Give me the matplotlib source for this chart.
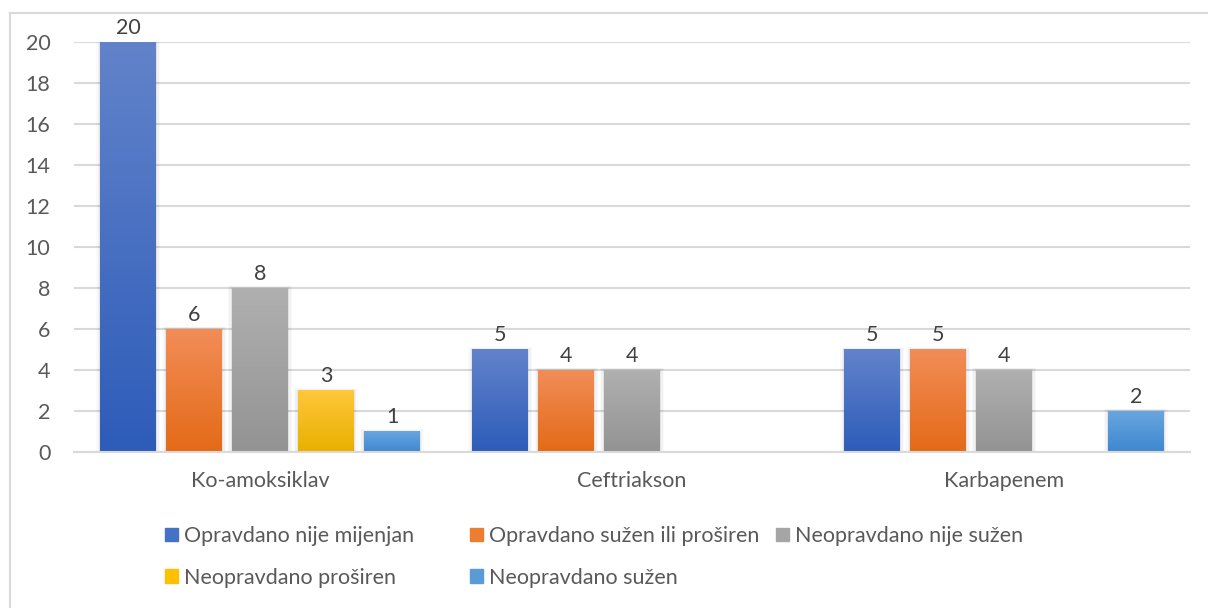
import numpy as np
import matplotlib.pyplot as plt
import matplotlib.patches as mpatches
from matplotlib.colors import LinearSegmentedColormap

categories = ["Ko-amoksiklav", "Ceftriakson", "Karbapenem"]
series_names = [
    "Opravdano nije mijenjan",
    "Opravdano sužen ili proširen",
    "Neopravdano nije sužen",
    "Neopravdano proširen",
    "Neopravdano sužen",
]
opravdano_nije_mijenjan = [20, 5, 5]
opravdano_suzen_ili_prosiren = [6, 4, 5]
neopravdano_nije_suzen = [8, 4, 4]
neopravdano_prosiren = [3, np.nan, np.nan]
neopravdano_suzen = [1, np.nan, 2]
y_ticks = [0, 2, 4, 6, 8, 10, 12, 14, 16, 18, 20]

series_values = [
    opravdano_nije_mijenjan,
    opravdano_suzen_ili_prosiren,
    neopravdano_nije_suzen,
    neopravdano_prosiren,
    neopravdano_suzen,
]
# (top colour, bottom colour) for the Office-like gradient
gradients = [
    ("#6283ca", "#2d5cb9"),
    ("#f28d58", "#e46a17"),
    ("#b0b0b0", "#939393"),
    ("#ffc73a", "#e9b000"),
    ("#68a6df", "#3f87cf"),
]
mid_colors = ["#4472c4", "#ed7d31", "#a5a5a5", "#ffc000", "#5b9bd5"]

plt.rcParams["font.family"] = ["Lato", "DejaVu Sans"]
text_color = "#595959"
fs = 15.5

fig = plt.figure(figsize=(12.08, 6.08), dpi=100)
ax = fig.add_axes([74 / 1208, (608 - 452) / 608, (1190 - 74) / 1208, (452 - 42) / 608])

# chart border (left and top visible in the reference)
fig.add_artist(plt.Line2D([10 / 1208, 10 / 1208], [0, (608 - 13) / 608],
                          transform=fig.transFigure, color="#d9d9d9", lw=1.5))
fig.add_artist(plt.Line2D([10 / 1208, 1], [(608 - 13) / 608, (608 - 13) / 608],
                          transform=fig.transFigure, color="#d9d9d9", lw=1.5))

x = np.arange(len(categories))
step = 0.1774
width = 0.148
grad = np.linspace(1, 0, 256).reshape(-1, 1)

for i, (vals, (top, bottom)) in enumerate(zip(series_values, gradients)):
    xs = x + (i - 2) * step
    bars = ax.bar(xs, vals, width, color="none", zorder=2)
    cmap = LinearSegmentedColormap.from_list(f"g{i}", [bottom, top])
    for b, v in zip(bars, vals):
        if np.isnan(v):
            continue
        x0, w, h = b.get_x(), b.get_width(), b.get_height()
        # soft shadow
        for k, a in enumerate([0.05, 0.035, 0.02]):
            pad = 0.004 * (k + 1)
            ax.add_patch(mpatches.Rectangle((x0 - pad, 0), w + 2 * pad, h + 0.04 * (k + 1),
                                            facecolor="#000000", alpha=a, lw=0, zorder=1.5))
        ax.imshow(grad, extent=[x0, x0 + w, 0, h], aspect="auto", cmap=cmap,
                  zorder=2.5, interpolation="bilinear")
        ax.annotate(f"{v:g}", (x0 + w / 2, h), xytext=(0, 3), textcoords="offset points",
                    ha="center", va="bottom", fontsize=fs, color="#404040")

ax.set_xlim(-0.5, 2.5)
ax.set_ylim(0, 20)
ax.set_yticks(y_ticks)
ax.set_xticks(x)
ax.set_xticklabels(categories)
ax.grid(axis="y", color="#d9d9d9", lw=1.5, zorder=0)
ax.set_axisbelow(True)
for s in ["top", "right", "left"]:
    ax.spines[s].set_visible(False)
ax.spines["bottom"].set_color("#d9d9d9")
ax.spines["bottom"].set_linewidth(1.5)
ax.tick_params(axis="both", length=0, labelsize=fs, labelcolor=text_color)
ax.tick_params(axis="y", pad=17)
ax.tick_params(axis="x", pad=14)

# legend: equal-width columns like Excel, filled row by row
handles = [mpatches.Patch(color=c, label=n) for c, n in zip(mid_colors, series_names)]
col_x = [165, 470, 776]
for c in range(3):
    idx = [k for k in range(len(series_names)) if k % 3 == c]
    fig.legend([handles[k] for k in idx], [series_names[k] for k in idx],
               loc="upper left", bbox_to_anchor=(col_x[c] / 1208, 1 - 526 / 608),
               frameon=False, fontsize=fs, labelcolor=text_color, borderpad=0,
               borderaxespad=0, handlelength=0.6, handleheight=0.6, handletextpad=0.3,
               labelspacing=1.0)

fig.savefig("out.png", dpi=100, facecolor="white")
